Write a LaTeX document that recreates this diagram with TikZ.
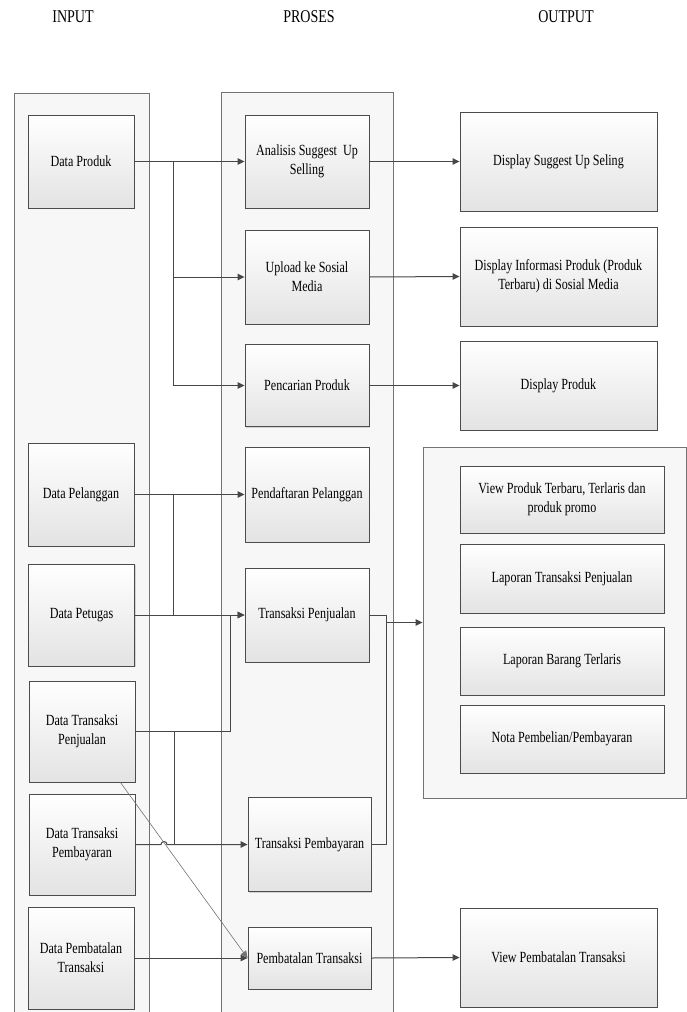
\documentclass[tikz,border=0pt]{standalone}
\usepackage{fontspec}
\setmainfont{Liberation Serif}[FakeStretch=0.78]
\usepackage{tikz}
\usetikzlibrary{shapes,arrows.meta,shadows}

\begin{document}
\begin{tikzpicture}[
    x=1pt, y=-1pt,
    font=\fontsize{15.5}{19}\selectfont,
    head/.style={font=\fontsize{18}{20}\selectfont},
    group/.style={rectangle, draw=black!55, fill=black!3, line width=0.9pt},
    box/.style={rectangle, draw=black!70, line width=0.9pt, top color=white, bottom color=black!11, drop shadow={opacity=0.3, shadow xshift=1.2pt, shadow yshift=-1.2pt}, align=center, inner sep=1pt},
    inbox/.style={box, minimum width=106pt},
    procbox/.style={box, minimum width=124pt},
    outbox/.style={box, minimum width=197pt},
    arrow/.style={-{Triangle[length=7pt,width=6.5pt]}, line width=1pt, draw=black!72},
    link/.style={line width=1pt, draw=black!72},
    diag/.style={-{Triangle[length=7pt,width=6.5pt]}, line width=0.6pt, draw=black!55}
]
\useasboundingbox (0,0) rectangle (687,1012);
\clip (0,0) rectangle (687,1012);

% Headings
\node[head] (hin) at (73,17) {INPUT};
\node[head] (hproc) at (309,17) {PROSES};
\node[head] (hout) at (566,17) {OUTPUT};

% Columns
\node[group, minimum width=135pt, minimum height=937pt] (ingrp) at (81.5,561.5) {};
\node[group, minimum width=172pt, minimum height=938pt] (procgrp) at (307,561) {};
\node[group, minimum width=263.5pt, minimum height=351pt] (outgrp) at (554.75,622.5) {};

% Input
\node[inbox, minimum height=93pt] (dprod) at (81,161.5) {Data Produk};
\node[inbox, minimum height=103pt] (dpel) at (81,494.5) {Data Pelanggan};
\node[inbox, minimum height=102pt] (dpet) at (81.5,615) {Data Petugas};
\node[inbox, minimum height=101pt] (dtjual) at (82,731.5) {Data Transaksi\\Penjualan};
\node[inbox, minimum height=101pt] (dtbayar) at (82,844.5) {Data Transaksi\\Pembayaran};
\node[inbox, minimum height=102pt] (dbatal) at (81,958) {Data Pembatalan\\Transaksi};

% Proses
\node[procbox, minimum height=93pt] (analisis) at (307,161.5) {Analisis Suggest\ \ Up\\Selling};
\node[procbox, minimum height=94pt] (upload) at (307,277) {Upload ke Sosial\\Media};
\node[procbox, minimum height=82pt] (cari) at (307,385.5) {Pencarian Produk};
\node[procbox, minimum height=95pt] (daftar) at (307,494.5) {Pendaftaran Pelanggan};
\node[procbox, minimum height=94pt] (tjual) at (307,615) {Transaksi Penjualan};
\node[procbox, minimum width=123pt, minimum height=94pt] (tbayar) at (309.5,844.5) {Transaksi Pembayaran};
\node[procbox, minimum width=123pt, minimum height=62pt] (batal) at (309.5,958) {Pembatalan Transaksi};

% Output
\node[outbox, minimum height=99pt] (dsug) at (558.5,161.5) {Display Suggest Up Seling};
\node[outbox, minimum height=99pt] (dinfo) at (558.5,276.5) {Display Informasi Produk (Produk\\Terbaru) di Sosial Media};
\node[outbox, minimum height=89pt] (dprodout) at (558.5,385.5) {Display Produk};
\node[outbox, minimum height=99pt] (vbatal) at (558.5,957.5) {View Pembatalan Transaksi};

% Output group
\node[box, minimum width=204pt, minimum height=67pt] (vprod) at (562,499.5) {View Produk Terbaru, Terlaris dan\\produk promo};
\node[box, minimum width=204pt, minimum height=69pt] (ltjual) at (562,578.5) {Laporan Transaksi Penjualan};
\node[box, minimum width=204pt, minimum height=68pt] (lbarang) at (562,661) {Laporan Barang Terlaris};
\node[box, minimum width=204pt, minimum height=68pt] (nota) at (562,739) {Nota Pembelian/Pembayaran};

% Data Produk
\coordinate (j1) at (173,161.5);
\draw[arrow] (dprod.east) -- (analisis.west);
\draw[arrow] (j1) |- (upload.west);
\draw[arrow] (j1) |- (cari.west);

% Data Pelanggan and Data Petugas
\coordinate (j2) at (173,494.5);
\draw[arrow] (dpel.east) -- (daftar.west);
\draw[arrow] (j2) |- (tjual.west);
\draw[arrow] (dpet.east) -- (tjual.west);

% Data Transaksi
\coordinate (j3) at (174,731.5);
\coordinate (j4) at (230,731.5);
\draw[link] (dtjual.east) -- (j4) -- (j4 |- tjual.west);
\draw[link] (j3) -- (j3 |- tbayar.west);
\draw[arrow] (dtbayar.east) -- (161,844.5) arc[start angle=180, end angle=360, radius=3] -- (tbayar.west);
\draw[arrow] (dbatal.east) -- (batal.west);
\draw[diag] ([xshift=-15pt]dtjual.south east) -- (batal.west);

% Proses to output
\draw[arrow] (analisis.east) -- (dsug.west);
\draw[arrow] (upload.east) -- (dinfo.west);
\draw[arrow] (cari.east) -- (dprodout.west);
\draw[arrow] (batal.east) -- (vbatal.west);
\coordinate (j5) at (386,622.5);
\draw[arrow] (tjual.east) -| (j5) -- (outgrp.west);
\draw[link] (tbayar.east) -| (j5);

\end{tikzpicture}
\end{document}
